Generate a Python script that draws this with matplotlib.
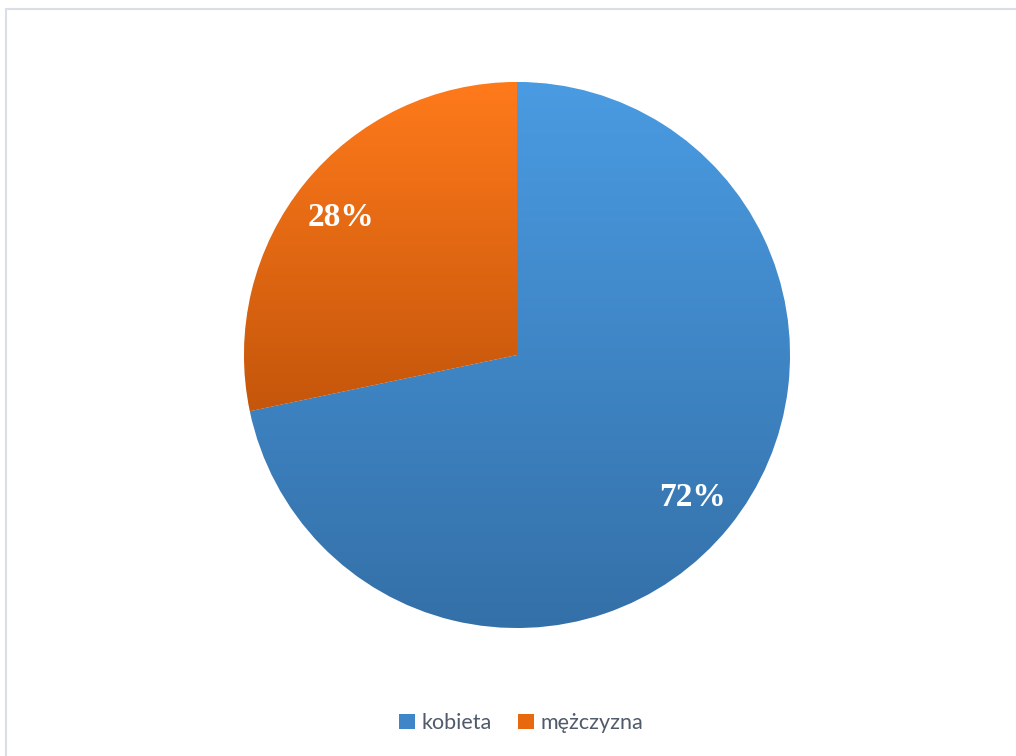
import numpy as np
import matplotlib.pyplot as plt
from matplotlib.colors import LinearSegmentedColormap
from matplotlib.patches import Rectangle, Patch

# Data
labels = ['kobieta', 'mężczyzna']
values = [71.7, 28.3]

# gradient colours per slice (top -> bottom)
top_colors = ['#4a9be2', '#ff7a1b']
bottom_colors = ['#3470a8', '#c5560b']
legend_colors = ['#3f86c9', '#e8680f']

fig = plt.figure(figsize=(10.16, 7.56), dpi=100)

# light frame around the chart area
fig.patches.append(Rectangle((6 / 1016, -0.1), 1.2, 1 - 9 / 756 + 0.1,
                             transform=fig.transFigure, fill=False,
                             edgecolor='#d9dfe6', linewidth=1.5))

ax = fig.add_axes([244 / 1016, (756 - 628) / 756, 546 / 1016, 546 / 756])
wedges, texts, autotexts = ax.pie(values, startangle=90, counterclock=False,
                                  colors=legend_colors, autopct='%.0f%%',
                                  pctdistance=0.83,
                                  wedgeprops=dict(edgecolor='white', linewidth=0.6),
                                  textprops=dict(color='white', fontsize=24,
                                                 fontweight='bold',
                                                 family='Liberation Serif'))

# vertical gradient fill clipped to each wedge
for w, c1, c2 in zip(wedges, top_colors, bottom_colors):
    t = np.radians(np.linspace(w.theta1, w.theta2, 200))
    ys = np.concatenate([np.sin(t) * w.r, [0]])
    ymin, ymax = ys.min(), ys.max()
    cmap = LinearSegmentedColormap.from_list('g', [c2, c1])
    grad = np.linspace(0, 1, 256).reshape(-1, 1)
    im = ax.imshow(grad, cmap=cmap, origin='lower', aspect='auto',
                   extent=(-1, 1, ymin, ymax), zorder=w.get_zorder() + 0.1,
                   interpolation='bicubic')
    im.set_clip_path(w)

for t in autotexts:
    t.set_zorder(5)
autotexts[1].set_y(autotexts[1].get_position()[1] - 0.02)

ax.set_xlim(-1, 1)
ax.set_ylim(-1, 1)
ax.set_aspect('equal')
ax.axis('off')

handles = [Patch(facecolor=c, edgecolor='none') for c in legend_colors]
fig.legend(handles, labels, loc='center', bbox_to_anchor=(521 / 1016, 1 - 723 / 756),
           ncol=2, frameon=False, handlelength=0.75, handleheight=0.75,
           handletextpad=0.3, columnspacing=1.2, labelcolor='#505a6a',
           prop=dict(family='Lato', size=15.5))

fig.savefig('out.png', dpi=100, facecolor='white')
